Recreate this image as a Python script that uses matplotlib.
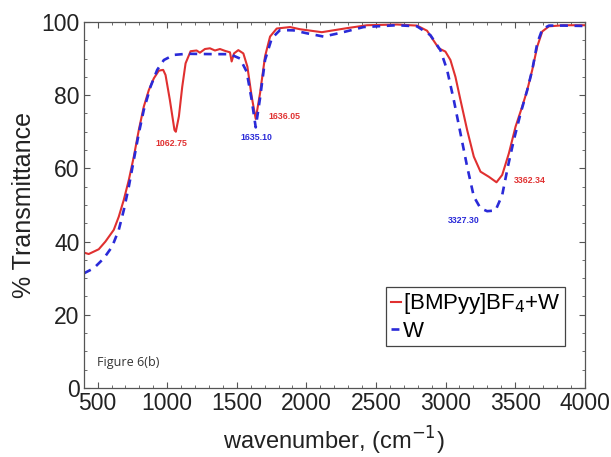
import matplotlib
matplotlib.use("Agg")
import matplotlib.pyplot as plt
from matplotlib.ticker import MultipleLocator

plt.rcParams['font.family'] = ['Liberation Sans', 'DejaVu Sans']

# FTIR spectrum, [BMPyy]BF4 + water
wn_ilw = [400, 436, 508, 556, 616, 652, 688, 724, 760, 796, 832, 868, 904,
          940, 971, 988, 1019, 1052, 1062, 1084, 1108, 1132, 1168, 1211,
          1235, 1271, 1307, 1343, 1379, 1415, 1451, 1463, 1480, 1511, 1547,
          1576, 1607, 1636, 1667, 1703, 1739, 1787, 1883, 1955, 2111, 2291,
          2435, 2651, 2795, 2867, 2951, 2999, 3035, 3071, 3107, 3155, 3203,
          3251, 3311, 3366, 3407, 3455, 3503, 3551, 3587, 3623, 3659, 3695,
          3743, 3850, 4000]
T_ilw = [37.0, 36.6, 37.9, 40.0, 43.2, 46.8, 51.4, 56.8, 63.2, 70.5, 76.9,
         81.4, 84.6, 86.7, 86.9, 85.5, 78.7, 70.5, 70.0, 74.2, 82.3, 88.7,
         92.0, 92.2, 91.6, 92.6, 92.8, 92.2, 92.6, 92.1, 91.7, 89.2, 91.4,
         92.3, 91.4, 87.8, 79.6, 73.5, 80.5, 90.6, 96.0, 98.2, 98.6, 98.0,
         97.2, 98.3, 99.1, 99.3, 99.0, 97.6, 92.8, 91.9, 89.6, 85.0, 78.7,
         70.5, 63.2, 59.1, 57.7, 56.2, 58.2, 64.1, 71.4, 76.9, 81.4, 86.9,
         93.3, 97.4, 98.8, 99.1, 99.1]

# FTIR spectrum, water
wn_w = [400, 472, 544, 604, 652, 688, 724, 760, 796, 832, 880, 928, 976,
        1048, 1144, 1336, 1451, 1523, 1571, 1607, 1636, 1667, 1703, 1751,
        1811, 1907, 2003, 2123, 2243, 2411, 2651, 2795, 2891, 2963, 3011,
        3059, 3107, 3155, 3203, 3251, 3299, 3359, 3407, 3448, 3491, 3539,
        3587, 3623, 3659, 3695, 3743, 3850, 4000]
T_w = [31.3, 32.7, 35.4, 38.6, 43.2, 48.6, 55.0, 62.3, 69.6, 76.0, 82.3,
       86.9, 89.6, 91.0, 91.3, 91.2, 91.2, 90.0, 86.4, 78.7, 71.2, 79.2,
       89.6, 95.5, 97.8, 97.7, 96.9, 96.0, 97.0, 98.6, 99.1, 98.8, 96.4,
       92.3, 86.9, 78.7, 69.6, 60.5, 52.3, 49.1, 48.3, 48.5, 52.7, 60.5,
       67.8, 75.0, 81.4, 86.9, 94.2, 98.0, 99.0, 99.0, 98.9]

# peak labels: text, x, y, colour
red = '#e03030'
blue = '#2a2ad8'
peak_txt = ['1062.75', '1636.05', '1635.10', '3362.34', '3327.30']
peak_x = [1030, 1840, 1638, 3607, 3134]
peak_y = [66.7, 74.1, 68.5, 56.6, 45.7]
peak_col = [red, red, blue, red, blue]

fig = plt.figure(figsize=(6.11, 4.57), dpi=100)
ax = fig.add_axes([0.137, 0.151, 0.82, 0.801])

ax.plot(wn_ilw, T_ilw, color=red, lw=1.5, label='[BMPyy]BF$_4$+W')
ax.plot(wn_w, T_w, color=blue, lw=1.9, ls=(0, (3.0, 2.5)), label='W')

for t, x, y, c in zip(peak_txt, peak_x, peak_y, peak_col):
    ax.text(x, y, t, color=c, fontsize=6.3, fontweight='bold',
            ha='center', va='center')

ax.text(0.026, 0.069, 'Figure 6(b)', transform=ax.transAxes,
        fontsize=9, color='#333333', va='center',
        family=['Open Sans', 'DejaVu Sans'])

ax.set_xlim(400, 4000)
ax.set_ylim(0, 100)
ax.set_xticks([500, 1000, 1500, 2000, 2500, 3000, 3500, 4000])
ax.set_yticks([0, 20, 40, 60, 80, 100])
ax.xaxis.set_minor_locator(MultipleLocator(100))
ax.yaxis.set_minor_locator(MultipleLocator(5))
ax.tick_params(which='both', direction='in', top=True, right=True,
               color='#555555', labelsize=16.5, labelcolor='#222222')
ax.tick_params(which='major', length=4, pad=3)
ax.tick_params(which='minor', length=2)
for s in ax.spines.values():
    s.set_color('#555555')
    s.set_linewidth(0.9)

ax.set_xlabel('wavenumber, (cm$^{-1}$)', fontsize=17, color='#222222',
              labelpad=7)
ax.set_ylabel('% Transmittance', fontsize=18, color='#222222', labelpad=4)

leg = ax.legend(loc='lower right', bbox_to_anchor=(0.961, 0.114),
                fontsize=16, handlelength=0.45, handletextpad=0.1,
                borderpad=0.2, borderaxespad=0, labelspacing=0.2,
                fancybox=False, framealpha=1)
leg.get_frame().set_edgecolor('#444444')
leg.get_frame().set_linewidth(0.9)

fig.savefig('out.png', dpi=100)
